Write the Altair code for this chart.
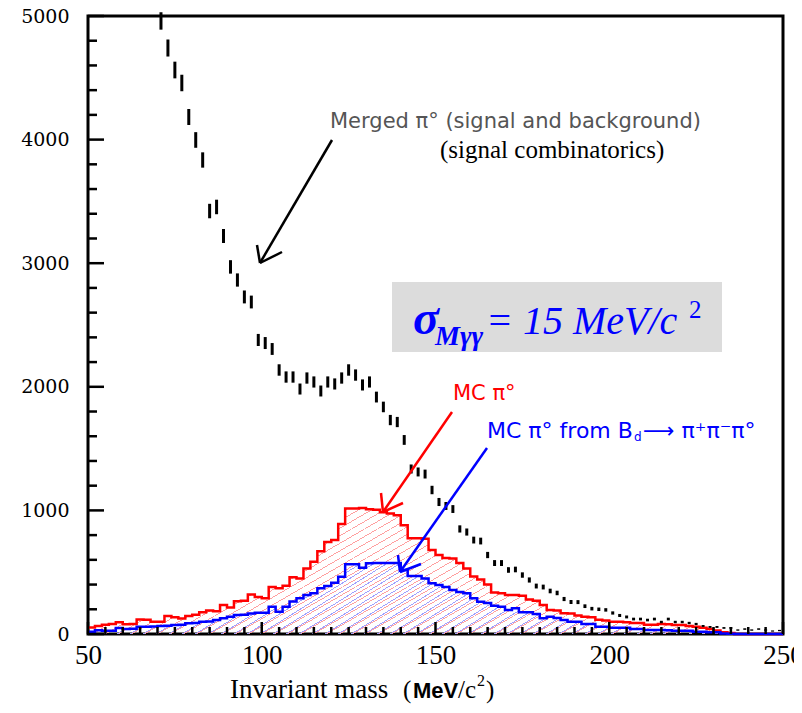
import altair as alt
import pandas as pd

# ---------------- data ----------------
edges = list(range(50, 250, 2))  # 2 MeV bins, lower edges

red_counts = [52, 65, 75, 80, 95, 78, 80, 118, 115, 100,
              100, 145, 135, 125, 145, 155, 175, 190, 185, 235,
              215, 265, 270, 320, 300, 290, 380, 370, 390, 460,
              450, 530, 585, 670, 745, 760, 890, 1015, 1015, 1020,
              1010, 1005, 985, 975, 960, 880, 775, 775, 770, 680,
              640, 615, 610, 575, 530, 465, 440, 400, 335, 330,
              316, 316, 310, 280, 270, 235, 195, 190, 168, 165,
              150, 140, 135, 115, 110, 100, 100, 95, 88, 88,
              75, 75, 80, 78, 73, 73, 65, 59, 50, 40,
              28, 15, 8, 0, 0, 0, 0, 0, 0, 0]

blue_counts = [19, 30, 27, 27, 49, 40, 42, 58, 58, 60,
               64, 66, 73, 75, 86, 88, 100, 102, 113, 127,
               140, 154, 155, 165, 172, 172, 221, 181, 221, 262,
               289, 316, 329, 370, 388, 415, 464, 565, 565, 535,
               572, 575, 575, 575, 575, 518, 469, 469, 450, 410,
               396, 380, 356, 340, 329, 289, 261, 250, 228, 221,
               194, 208, 176, 176, 162, 127, 140, 130, 113, 100,
               100, 81, 81, 59, 59, 51, 51, 51, 40, 40,
               32, 32, 32, 30, 27, 27, 27, 19, 19, 14,
               14, 5, 3, 0, 0, 0, 0, 0, 0, 0]

black_centers = list(range(71, 250, 2))
black_counts = [4960, 4741, 4563, 4458, 4183, 3997, 3835, 3422, 3455, 3220,
                2970, 2864, 2727, 2686, 2379, 2354, 2306, 2136, 2079, 2079,
                1982, 2071, 2039, 1966, 2039, 2023, 2071, 2136, 2095, 2015,
                2039, 1917, 1837, 1731, 1715, 1570, 1335, 1311, 1294, 1165,
                1068, 1036, 1011, 850, 825, 760, 752, 639, 574, 574,
                518, 522, 477, 437, 388, 380, 348, 332, 283, 259,
                258, 225, 205, 200, 195, 170, 150, 138, 121, 121,
                113, 121, 97, 121, 97, 97, 89, 81, 65, 57,
                57, 49, 49, 32, 40, 32, 40, 32, 24, 28]

x_major = [50, 100, 150, 200, 250]
x_minor = [v for v in range(50, 251, 5) if v % 50]
y_major = [0, 1000, 2000, 3000, 4000, 5000]
y_minor = [v for v in range(0, 5001, 200) if v % 1000]

# ---------------- layout ----------------
W, H = 695, 618
xs = alt.Scale(domain=[50, 250], nice=False, zero=False)
ys = alt.Scale(domain=[0, 5000], nice=False, zero=True)
xaxis = alt.Axis(values=x_major, format="d", labelFont="Liberation Serif", labelFontSize=27,
                 labelColor="black", ticks=False, tickSize=0, domain=False, grid=False,
                 labelPadding=8, labelFlush=False, labelOverlap=False, title="")
yaxis = alt.Axis(values=y_major, format="d", labelFont="DejaVu Serif", labelFontSize=19,
                 labelColor="black", ticks=False, tickSize=0, domain=False, grid=False,
                 labelPadding=19, labelFlush=False, labelOverlap=False, title="")


def X(f="x"):
    return alt.X(f"{f}:Q", scale=xs, axis=xaxis)


def Y(f="y"):
    return alt.Y(f"{f}:Q", scale=ys, axis=yaxis)


def hatch(color, k, period_px, box_w):
    # diagonal stripes made with a hard-stop linear gradient (bbox units)
    s = (k + 1) / (k * k + 1)
    a, b = s * k, s
    dtdx = a / ((a * a + b * b) * box_w)
    P = period_px * dtdx
    clear = "rgba(255,255,255,0)"
    stops = []
    o = 0.0
    while o < 1:
        o2 = min(o + P * 0.13, 1)
        o3 = min(o + P, 1)
        stops += [alt.GradientStop(offset=o, color=color),
                  alt.GradientStop(offset=o2, color=color),
                  alt.GradientStop(offset=o2, color=clear),
                  alt.GradientStop(offset=o3, color=clear)]
        o += P
    return alt.LinearGradient(gradient="linear", stops=stops, x1=0, y1=0, x2=a, y2=b)


red_df = pd.DataFrame({"x": edges + [250], "y": red_counts + [red_counts[-1]]})
blue_df = pd.DataFrame({"x": edges + [250], "y": blue_counts + [blue_counts[-1]]})
black_df = pd.DataFrame({"x": black_centers, "y": black_counts})

red_h = max(red_counts) / 5000 * H
blue_h = max(blue_counts) / 5000 * H

red_fill = alt.Chart(red_df).mark_area(
    interpolate="step-after", fill=hatch("#ffa0a0", 0.58 * W / red_h, 13, W)
).encode(x=X(), y=Y())
blue_fill = alt.Chart(blue_df).mark_area(
    interpolate="step-after", fill=hatch("#a0a0ff", 0.62 * W / blue_h, 13, W)
).encode(x=X(), y=Y())
red_line = alt.Chart(red_df).mark_line(
    interpolate="step-after", color="#ff0000", strokeWidth=2.5
).encode(x=X(), y=Y())
blue_line = alt.Chart(blue_df).mark_line(
    interpolate="step-after", color="#0000ff", strokeWidth=2.5
).encode(x=X(), y=Y())

black_pts = alt.Chart(black_df).transform_calculate(
    lo="datum.y - sqrt(datum.y)", hi="datum.y + sqrt(datum.y)"
).mark_rule(color="black", strokeWidth=3).encode(
    x=X(), y=Y("lo"), y2="hi:Q")

# inward ticks
xmaj = alt.Chart(pd.DataFrame({"x": x_major})).mark_rule(color="black", strokeWidth=2.5).encode(
    x=X(), y=alt.value(H), y2=alt.value(H - 12))
xmin = alt.Chart(pd.DataFrame({"x": x_minor})).mark_rule(color="black", strokeWidth=2.5).encode(
    x=X(), y=alt.value(H), y2=alt.value(H - 7))
ymaj = alt.Chart(pd.DataFrame({"y": y_major})).mark_rule(color="black", strokeWidth=2.5).encode(
    y=Y(), x=alt.value(0), x2=alt.value(16))
ymin = alt.Chart(pd.DataFrame({"y": y_minor})).mark_rule(color="black", strokeWidth=2.5).encode(
    y=Y(), x=alt.value(0), x2=alt.value(9))

one = alt.Data(values=[{}])


def seg(x1, y1, x2, y2, color):
    return alt.Chart(one).mark_rule(color=color, strokeWidth=2.5).encode(
        x=alt.value(x1), y=alt.value(y1), x2=alt.value(x2), y2=alt.value(y2))


def txt(s, x, y, size, color="black", font="DejaVu Sans", style="normal", weight="normal"):
    return alt.Chart(one).mark_text(
        text=s, align="left", baseline="alphabetic", font=font, fontSize=size,
        color=color, fontStyle=style, fontWeight=weight
    ).encode(x=alt.value(x), y=alt.value(y))


def arrow(x1, y1, x2, y2, a1, a2, color):
    return [seg(x1, y1, x2, y2, color), seg(x2, y2, a1[0], a1[1], color),
            seg(x2, y2, a2[0], a2[1], color)]


notes = []
notes += arrow(244, 124, 172, 247, (169, 229), (194, 236), "black")
notes += arrow(364, 396, 295, 496, (293, 477), (315, 487), "#ff0000")
notes += arrow(399, 432, 312, 556, (310, 539), (333, 548), "#0000ff")
notes.append(txt("Merged π° (signal and background)", 242, 112, 21, "#555555"))
notes.append(txt("(signal combinatorics)", 352, 142, 25, "black", "Liberation Serif"))
notes.append(alt.Chart(one).mark_rect(color="#dcdcdc").encode(
    x=alt.value(304), x2=alt.value(634), y=alt.value(266), y2=alt.value(336)))
notes.append(txt("σ", 325, 318, 48, "#0000ff", "Liberation Serif", "italic", "bold"))
notes.append(txt("Mγγ", 347, 329, 28, "#0000ff", "Liberation Serif", "italic", "bold"))
notes.append(txt("= 15 MeV/c", 398, 318, 40, "#0000ff", "Liberation Serif", "italic"))
notes.append(txt("2", 601, 302, 25, "#0000ff", "Liberation Serif"))
notes.append(txt("MC π°", 365, 384, 21, "#ff0000"))
notes.append(txt("MC π° from B", 399, 422, 22, "#0000ff"))
notes.append(txt("d", 546, 425, 12, "#0000ff"))
notes.append(txt("⟶ π⁺π⁻π°", 555, 422, 22, "#0000ff"))
# x-axis title
notes.append(txt("Invariant mass", 142, 682, 27, "black", "Liberation Serif"))
notes.append(txt("(", 315, 682, 25, "black", "Liberation Serif"))
notes.append(txt("MeV", 325, 682, 22, "black", "Liberation Sans", "normal", "bold"))
notes.append(txt("/c", 370, 682, 25, "black", "Liberation Serif"))
notes.append(txt("2", 389, 670, 16, "black", "Liberation Serif"))
notes.append(txt(")", 398, 682, 25, "black", "Liberation Serif"))

chart = alt.layer(
    red_fill, blue_fill, red_line, blue_line, black_pts, xmaj, xmin, ymaj, ymin, *notes
).properties(
    width=W, height=H,
    background="white",
    autosize=alt.AutoSizeParams(type="none"),
    padding={"left": 80, "top": 8, "right": 11, "bottom": 71},
).configure_view(stroke="black", strokeWidth=3)

chart.save("out.html", embed_options={"renderer": "svg", "actions": False})
